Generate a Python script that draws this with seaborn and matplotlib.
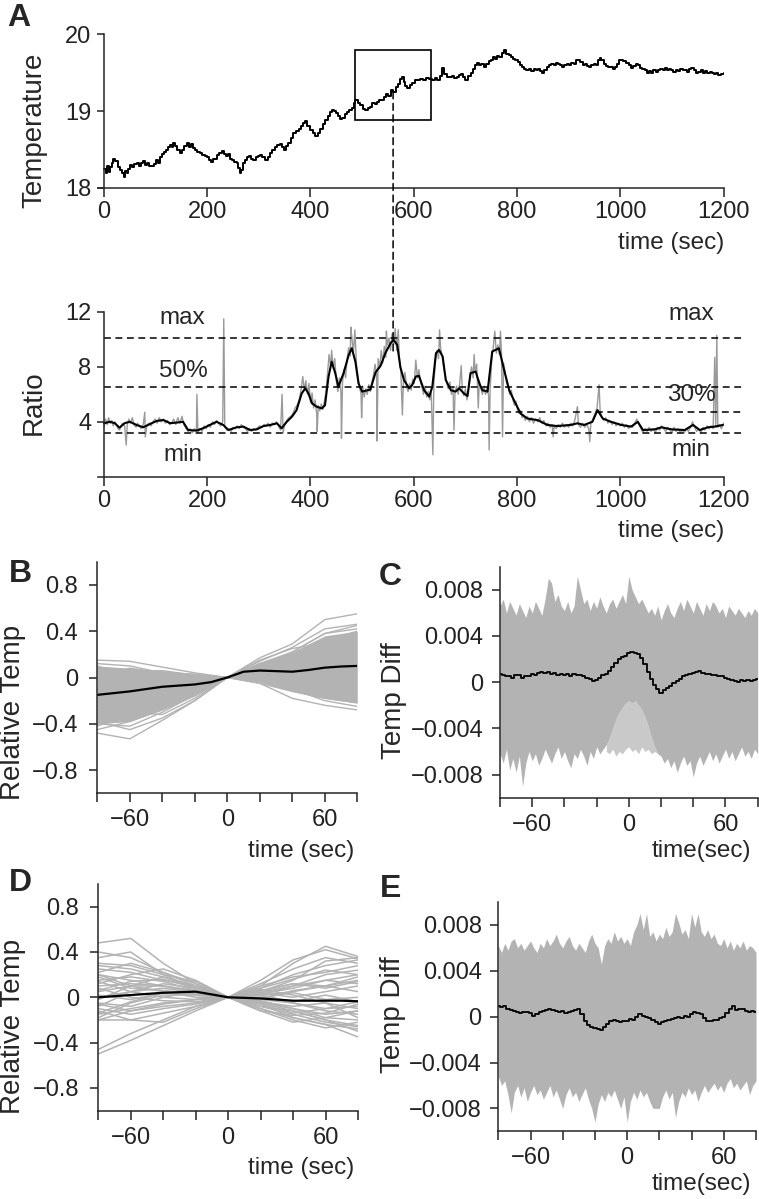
import numpy as np
import pandas as pd
import matplotlib
matplotlib.use("Agg")
import matplotlib.pyplot as plt
import seaborn as sns
from matplotlib.patches import Rectangle, ConnectionPatch

# ------------------------------------------------------------------ data
# Panel A (top): temperature trace (time s, temperature)
temperature_trace = [
    (0, 18.25), (3, 18.2), (6, 18.28), (9, 18.21), (12, 18.27), (15, 18.33), (18, 18.38), (22, 18.35),
    (27, 18.27), (31, 18.24), (34, 18.2), (38, 18.14), (41, 18.22), (44, 18.19), (47, 18.25), (50, 18.3),
    (54, 18.27), (58, 18.31), (63, 18.32), (67, 18.28), (71, 18.32), (75, 18.35), (79, 18.3), (83, 18.33),
    (88, 18.29), (92, 18.28), (96, 18.31), (100, 18.36), (104, 18.33), (108, 18.4), (112, 18.44), (116, 18.47),
    (120, 18.5), (124, 18.53), (128, 18.56), (131, 18.54), (134, 18.58), (138, 18.55), (142, 18.5), (147, 18.45),
    (151, 18.5), (155, 18.55), (160, 18.58), (164, 18.54), (168, 18.57), (172, 18.52), (176, 18.5), (181, 18.47),
    (186, 18.45), (190, 18.43), (195, 18.41), (199, 18.4), (203, 18.36), (208, 18.34), (212, 18.38), (218, 18.43),
    (223, 18.45), (228, 18.48), (232, 18.44), (236, 18.41), (240, 18.44), (244, 18.38), (248, 18.36), (252, 18.34),
    (257, 18.32), (260, 18.26), (263, 18.2), (266, 18.24), (270, 18.32), (273, 18.36), (277, 18.4), (280, 18.42),
    (285, 18.38), (289, 18.37), (294, 18.4), (298, 18.42), (302, 18.43), (307, 18.4), (312, 18.36), (317, 18.4),
    (322, 18.45), (326, 18.5), (331, 18.53), (336, 18.56), (341, 18.57), (345, 18.54), (348, 18.5), (352, 18.55),
    (357, 18.58), (362, 18.65), (367, 18.71), (372, 18.74), (377, 18.77), (381, 18.81), (386, 18.84), (390, 18.87),
    (394, 18.81), (399, 18.75), (404, 18.71), (409, 18.68), (414, 18.72), (419, 18.77), (424, 18.83), (428, 18.88),
    (433, 18.94), (438, 18.99), (442, 19.02), (445, 19.0), (450, 18.97), (454, 18.94), (458, 18.9), (461, 18.91),
    (466, 18.96), (470, 18.99), (475, 19.02), (480, 19.04), (484, 19.1), (487, 19.14), (492, 19.11), (496, 19.08),
    (501, 19.03), (506, 19.01), (511, 19.04), (516, 19.06), (520, 19.1), (524, 19.09), (529, 19.12), (533, 19.15),
    (538, 19.14), (542, 19.19), (547, 19.22), (551, 19.2), (555, 19.27), (560, 19.25), (565, 19.32), (570, 19.35),
    (574, 19.42), (577, 19.45), (581, 19.38), (584, 19.33), (587, 19.3), (592, 19.34), (597, 19.36), (602, 19.4),
    (607, 19.41), (612, 19.42), (618, 19.41), (624, 19.43), (630, 19.42), (636, 19.41), (641, 19.43), (646, 19.41),
    (650, 19.46), (655, 19.56), (659, 19.48), (665, 19.45), (670, 19.44), (674, 19.46), (678, 19.43), (683, 19.45),
    (688, 19.47), (691, 19.48), (695, 19.44), (700, 19.41), (705, 19.46), (710, 19.5), (714, 19.55), (719, 19.6),
    (723, 19.63), (727, 19.6), (731, 19.62), (736, 19.58), (740, 19.62), (745, 19.65), (749, 19.67), (754, 19.7),
    (758, 19.68), (762, 19.72), (766, 19.7), (771, 19.76), (775, 19.8), (779, 19.74), (784, 19.73), (788, 19.7),
    (792, 19.68), (797, 19.66), (801, 19.64), (806, 19.6), (810, 19.57), (814, 19.55), (818, 19.53), (823, 19.55),
    (827, 19.52), (832, 19.55), (836, 19.53), (840, 19.55), (845, 19.52), (849, 19.5), (853, 19.53), (858, 19.57),
    (862, 19.6), (866, 19.61), (871, 19.6), (875, 19.63), (879, 19.62), (884, 19.6), (888, 19.58), (892, 19.6),
    (897, 19.62), (901, 19.6), (905, 19.63), (910, 19.62), (914, 19.66), (918, 19.67), (923, 19.64), (927, 19.6),
    (931, 19.61), (936, 19.59), (940, 19.57), (944, 19.6), (949, 19.62), (953, 19.6), (957, 19.66), (960, 19.69),
    (963, 19.66), (968, 19.62), (972, 19.59), (976, 19.57), (981, 19.58), (985, 19.55), (989, 19.57), (994, 19.62),
    (998, 19.66), (1002, 19.67), (1006, 19.65), (1011, 19.63), (1016, 19.6), (1021, 19.56), (1025, 19.59), (1030, 19.61),
    (1034, 19.6), (1038, 19.56), (1043, 19.55), (1047, 19.53), (1051, 19.5), (1056, 19.52), (1060, 19.5), (1064, 19.53),
    (1069, 19.51), (1073, 19.53), (1077, 19.55), (1082, 19.53), (1086, 19.56), (1090, 19.53), (1095, 19.55), (1099, 19.53),
    (1103, 19.51), (1108, 19.54), (1112, 19.52), (1116, 19.55), (1121, 19.53), (1125, 19.54), (1130, 19.51), (1134, 19.55),
    (1138, 19.56), (1142, 19.53), (1147, 19.5), (1151, 19.51), (1156, 19.53), (1160, 19.5), (1164, 19.52), (1169, 19.49),
    (1173, 19.51), (1177, 19.49), (1182, 19.48), (1186, 19.5), (1190, 19.47), (1195, 19.48), (1200, 19.5),
]

# Panel A (bottom): ratio, smoothed (black) and raw (grey)
ratio_smooth = [
    (0, 3.89), (11, 4.0), (21, 3.9), (30, 3.57), (40, 3.9), (50, 4.0), (63, 3.77), (76, 3.6), (89, 3.84),
    (102, 4.06), (115, 4.13), (128, 3.9), (140, 3.94), (153, 4.0), (163, 3.4), (179, 3.36), (192, 3.53),
    (205, 3.77), (218, 4.0), (231, 3.77), (241, 3.4), (257, 3.6), (270, 3.65), (283, 3.4), (296, 3.45),
    (309, 3.69), (322, 3.77), (335, 3.89), (344, 3.53), (354, 4.0), (364, 4.37), (373, 4.85), (383, 6.07),
    (390, 6.44), (396, 6.07), (403, 5.34), (412, 5.1), (422, 4.98), (428, 5.2), (435, 7.3), (441, 8.38),
    (448, 7.54), (454, 6.56), (464, 7.54), (474, 8.87), (480, 9.36), (487, 8.38), (493, 6.8), (500, 6.2),
    (516, 6.35), (526, 7.6), (536, 8.1), (545, 9.0), (555, 9.72), (561, 9.97), (568, 9.6), (574, 8.0),
    (581, 7.05), (591, 6.44), (597, 6.68), (604, 7.3), (610, 7.35), (620, 6.3), (630, 5.83), (636, 6.56),
    (643, 9.0), (649, 9.24), (656, 8.75), (662, 7.05), (672, 6.3), (681, 6.2), (688, 6.44), (697, 6.07),
    (704, 5.88), (710, 7.54), (720, 7.66), (727, 6.8), (733, 6.3), (743, 6.2), (752, 9.12), (765, 9.36),
    (775, 7.78), (785, 6.3), (794, 5.58), (807, 4.6), (820, 4.24), (840, 4.12), (859, 3.77), (878, 3.69),
    (904, 3.77), (917, 3.89), (930, 3.77), (946, 4.0), (956, 4.85), (966, 4.24), (982, 4.0), (1002, 3.77),
    (1021, 3.65), (1034, 4.0), (1044, 3.4), (1067, 3.45), (1080, 3.6), (1099, 3.45), (1125, 3.4),
    (1141, 3.77), (1154, 3.4), (1170, 3.6), (1183, 3.65), (1199, 3.77),
]
ratio_raw = [
    (0, 3.6), (3, 4.2), (6, 3.8), (9, 4.3), (12, 3.9), (15, 4.1), (18, 3.7), (21, 4.0), (24, 3.8), (27, 3.5),
    (30, 3.4), (33, 3.7), (36, 3.9), (40, 3.7), (43, 2.3), (45, 3.8), (48, 4.2), (51, 3.9), (55, 4.3), (58, 3.8),
    (62, 3.6), (65, 3.9), (69, 3.7), (72, 3.5), (76, 3.8), (79, 4.7), (80, 2.9), (83, 3.7), (87, 3.9), (91, 3.7),
    (95, 4.0), (99, 4.2), (103, 3.9), (107, 4.3), (111, 4.0), (115, 4.2), (119, 3.9), (123, 4.1), (127, 3.8),
    (131, 3.9), (135, 4.2), (139, 3.8), (143, 4.3), (147, 3.9), (151, 4.4), (155, 3.8), (159, 3.5), (163, 3.3),
    (167, 3.5), (171, 3.2), (175, 3.5), (179, 3.3), (180, 6.0), (182, 3.2), (186, 3.5), (190, 3.3), (194, 3.7),
    (198, 3.5), (202, 3.8), (206, 3.6), (210, 4.0), (214, 3.8), (218, 4.1), (222, 3.9), (226, 3.7), (230, 4.0),
    (232, 11.5), (234, 3.6), (238, 3.4), (242, 3.5), (246, 3.3), (250, 3.6), (254, 3.5), (258, 3.7), (262, 3.5),
    (266, 3.8), (270, 3.6), (274, 3.5), (278, 3.3), (282, 3.5), (286, 3.3), (290, 3.5), (294, 3.4), (298, 3.6),
    (302, 3.7), (306, 3.6), (310, 3.8), (314, 3.7), (318, 3.9), (322, 3.6), (326, 3.9), (330, 3.8), (334, 4.0),
    (338, 3.7), (342, 3.4), (345, 6.0), (347, 3.2), (350, 3.8), (354, 4.1), (358, 4.3), (362, 4.4), (366, 4.6),
    (370, 5.0), (374, 5.2), (378, 5.6), (382, 6.4), (385, 7.3), (388, 6.3), (391, 7.0), (394, 6.0), (397, 6.8),
    (400, 5.4), (403, 6.1), (406, 5.0), (409, 5.6), (412, 4.6), (413, 3.3), (415, 5.2), (418, 4.8), (421, 5.3),
    (424, 4.9), (427, 5.5), (430, 6.2), (433, 7.6), (436, 8.9), (439, 8.0), (441, 9.2), (444, 7.9), (447, 8.6),
    (450, 7.0), (453, 6.2), (456, 7.2), (459, 6.1), (460, 2.8), (462, 6.9), (465, 7.8), (468, 7.2), (471, 8.6),
    (474, 9.4), (477, 8.8), (478, 10.9), (480, 10.2), (483, 9.0), (486, 10.7), (489, 8.2), (492, 7.3), (495, 6.5),
    (498, 6.0), (499, 4.3), (501, 6.6), (504, 5.8), (507, 6.4), (510, 6.0), (513, 6.7), (516, 6.2), (519, 6.9),
    (522, 7.4), (525, 8.2), (528, 7.4), (529, 2.6), (531, 8.6), (534, 7.9), (537, 9.2), (540, 8.3), (543, 9.5),
    (546, 8.7), (547, 10.6), (549, 9.6), (552, 10.1), (555, 9.2), (558, 10.4), (561, 9.6), (564, 10.8),
    (567, 9.2), (570, 10.7), (572, 8.8), (575, 7.6), (578, 4.5), (580, 7.0), (583, 7.6), (586, 6.6), (589, 6.2),
    (592, 6.8), (595, 6.3), (598, 7.1), (601, 6.8), (604, 8.5), (607, 7.2), (610, 7.8), (613, 6.9), (616, 6.5),
    (619, 6.0), (622, 6.6), (625, 5.8), (628, 6.2), (631, 5.6), (634, 6.1), (637, 1.6), (639, 6.8), (642, 8.4),
    (645, 9.2), (648, 8.6), (650, 10.7), (652, 9.4), (655, 8.8), (658, 8.0), (661, 7.4), (664, 6.8), (667, 6.4),
    (670, 6.9), (673, 6.0), (676, 6.5), (678, 3.4), (680, 6.2), (683, 6.6), (686, 6.0), (689, 6.8), (692, 8.1),
    (694, 6.3), (697, 5.9), (700, 6.4), (703, 5.6), (706, 6.2), (709, 7.4), (712, 8.0), (715, 7.2), (717, 8.9),
    (719, 7.6), (722, 8.2), (725, 5.0), (727, 7.0), (730, 6.5), (733, 6.0), (736, 6.6), (739, 6.0), (742, 6.5),
    (745, 5.9), (746, 1.95), (748, 6.4), (751, 8.5), (754, 9.4), (757, 10.6), (760, 9.0), (763, 9.6), (766, 8.9),
    (768, 10.6), (770, 9.0), (772, 2.9), (774, 8.3), (777, 7.6), (780, 6.8), (783, 6.5), (786, 6.0), (789, 6.3),
    (792, 5.6), (795, 5.2), (798, 5.5), (801, 4.9), (804, 4.6), (807, 4.8), (810, 4.3), (813, 4.5), (816, 4.1),
    (820, 4.4), (824, 4.0), (828, 4.3), (832, 3.9), (836, 4.2), (840, 4.0), (844, 4.3), (848, 3.9), (852, 4.1),
    (856, 3.7), (860, 3.9), (864, 3.6), (868, 3.8), (870, 2.9), (872, 3.7), (876, 3.5), (880, 3.8), (884, 3.6),
    (888, 3.9), (892, 3.6), (896, 3.8), (900, 3.6), (904, 3.9), (908, 3.7), (912, 4.1), (917, 5.1), (919, 3.8),
    (923, 3.6), (927, 3.9), (931, 3.6), (935, 3.8), (939, 3.5), (941, 2.55), (943, 3.9), (947, 4.2), (951, 4.6),
    (955, 5.0), (959, 6.7), (961, 4.8), (964, 4.4), (968, 4.1), (972, 4.3), (976, 3.9), (980, 4.1), (984, 3.8),
    (988, 4.0), (992, 3.7), (996, 3.9), (1000, 3.7), (1004, 3.9), (1008, 3.6), (1012, 3.8), (1016, 3.5),
    (1020, 3.7), (1024, 3.6), (1028, 3.9), (1032, 4.2), (1036, 3.8), (1040, 3.5), (1044, 3.2), (1048, 3.5),
    (1052, 3.3), (1056, 3.6), (1060, 3.3), (1064, 3.5), (1068, 3.2), (1072, 3.6), (1076, 3.4), (1080, 3.7),
    (1084, 3.5), (1088, 3.3), (1092, 3.6), (1096, 3.4), (1100, 3.2), (1104, 3.6), (1108, 3.3), (1112, 3.5),
    (1116, 3.2), (1120, 3.4), (1124, 3.2), (1128, 3.5), (1132, 3.3), (1136, 3.6), (1140, 4.0), (1144, 3.6),
    (1148, 3.3), (1152, 3.5), (1156, 3.2), (1160, 3.6), (1164, 3.4), (1168, 3.7), (1172, 3.5), (1176, 3.7),
    (1180, 3.5), (1183, 8.7), (1185, 3.6), (1187, 10.3), (1189, 3.6), (1192, 3.8), (1196, 3.5), (1200, 3.9),
]
level_max = 10.1
level_50 = 6.5
level_30 = 4.75
level_min = 3.2
level_30_start = 619
level_end = 1235
marker_time = 560
marker_temp = 19.25
marker_ratio = 9.0
box_times = (487, 633)
box_temps = (18.89, 19.80)

# Panels B-E: event-triggered windows
window_coarse = [-80, -60, -40, -20, 0, 20, 40, 60, 80]
window_mid = [-80, -70, -60, -50, -40, -30, -20, -10, 0, 10, 20, 30, 40, 50, 60, 70, 80]
window_fine = list(range(-80, 81, 2))

B_lines = [
    [0.15, 0.14, 0.09, 0.04, 0, 0.17, 0.29, 0.50, 0.55],
    [-0.48, -0.53, -0.37, -0.20, 0, 0.12, 0.22, 0.38, 0.45],
    [0.08, 0.05, 0.02, 0.00, 0, -0.05, -0.18, -0.24, -0.28],
    [-0.30, -0.35, -0.25, -0.12, 0, 0.08, 0.15, 0.28, 0.35],
    [-0.10, -0.05, -0.05, -0.03, 0, 0.03, 0.05, 0.10, 0.15],
    [-0.22, -0.18, -0.12, -0.08, 0, 0.10, 0.20, 0.32, 0.40],
    [-0.40, -0.42, -0.30, -0.15, 0, -0.02, -0.10, -0.20, -0.25],
    [0.00, 0.05, 0.06, 0.02, 0, 0.05, 0.00, -0.10, -0.15],
    [-0.35, -0.30, -0.20, -0.10, 0, 0.15, 0.25, 0.30, 0.32],
    [-0.05, -0.10, -0.08, -0.05, 0, 0.06, 0.12, 0.20, 0.18],
    [-0.25, -0.30, -0.32, -0.18, 0, 0.02, -0.05, -0.12, -0.08],
    [0.12, 0.10, 0.04, 0.01, 0, 0.08, 0.18, 0.25, 0.30],
    [-0.45, -0.38, -0.28, -0.16, 0, 0.05, 0.10, 0.05, 0.00],
    [-0.15, -0.20, -0.15, -0.10, 0, -0.05, -0.12, -0.18, -0.22],
    [0.05, -0.02, -0.05, -0.04, 0, 0.10, 0.22, 0.38, 0.42],
    [-0.32, -0.25, -0.18, -0.12, 0, 0.12, 0.08, 0.15, 0.22],
    [-0.18, -0.12, -0.10, -0.06, 0, 0.00, 0.05, 0.02, 0.08],
    [-0.05, -0.15, -0.20, -0.10, 0, 0.14, 0.26, 0.42, 0.46],
    [-0.38, -0.45, -0.35, -0.20, 0, 0.04, 0.00, -0.05, -0.12],
    [0.10, 0.00, -0.02, 0.00, 0, -0.03, -0.08, 0.00, 0.05],
    [-0.28, -0.20, -0.22, -0.14, 0, 0.08, 0.12, 0.22, 0.25],
    [-0.12, -0.25, -0.20, -0.08, 0, 0.06, 0.18, 0.12, 0.10],
    [0.02, 0.08, 0.04, 0.03, 0, 0.10, 0.14, 0.08, -0.02],
    [-0.42, -0.32, -0.26, -0.14, 0, 0.02, -0.08, -0.16, -0.20],
]
B_core_upper = [0.10, 0.08, 0.06, 0.03, 0.0, 0.13, 0.22, 0.36, 0.40]
B_core_lower = [-0.40, -0.38, -0.28, -0.15, 0.0, -0.04, -0.12, -0.18, -0.22]
B_mean = [-0.15, -0.135, -0.12, -0.10, -0.08, -0.07, -0.06, -0.04, 0.0,
          0.05, 0.06, 0.055, 0.05, 0.065, 0.085, 0.095, 0.10]

C_upper = [
    0.0066, 0.0072, 0.0060, 0.0070, 0.0064, 0.0058, 0.0068, 0.0062, 0.0056, 0.0066,
    0.0060, 0.0070, 0.0064, 0.0058, 0.0072, 0.0090, 0.0086, 0.0070, 0.0076, 0.0066,
    0.0062, 0.0070, 0.0060, 0.0066, 0.0092, 0.0080, 0.0068, 0.0072, 0.0062, 0.0070,
    0.0064, 0.0074, 0.0066, 0.0060, 0.0068, 0.0072, 0.0064, 0.0070, 0.0076, 0.0068,
    0.0092, 0.0080, 0.0074, 0.0068, 0.0072, 0.0066, 0.0060, 0.0064, 0.0058, 0.0066,
    0.0054, 0.0062, 0.0068, 0.0060, 0.0056, 0.0064, 0.0070, 0.0062, 0.0072, 0.0066,
    0.0060, 0.0070, 0.0064, 0.0058, 0.0068, 0.0062, 0.0070, 0.0066, 0.0060, 0.0064,
    0.0056, 0.0066, 0.0062, 0.0058, 0.0064, 0.0060, 0.0056, 0.0062, 0.0058, 0.0064,
    0.0060,
]
C_lower = [
    -0.0062, -0.0070, -0.0058, -0.0076, -0.0066, -0.0078, -0.0064, -0.0090, -0.0070, -0.0060,
    -0.0068, -0.0062, -0.0072, -0.0066, -0.0058, -0.0064, -0.0070, -0.0062, -0.0056, -0.0066,
    -0.0060, -0.0068, -0.0074, -0.0062, -0.0066, -0.0058, -0.0064, -0.0072, -0.0060, -0.0066,
    -0.0056, -0.0062, -0.0058, -0.0054, -0.0048, -0.0040, -0.0032, -0.0026, -0.0022, -0.0018,
    -0.0016, -0.0018, -0.0016, -0.0020, -0.0024, -0.0030, -0.0038, -0.0048, -0.0056, -0.0062,
    -0.0064, -0.0070, -0.0066, -0.0074, -0.0068, -0.0078, -0.0070, -0.0064, -0.0072, -0.0068,
    -0.0082, -0.0070, -0.0064, -0.0072, -0.0066, -0.0060, -0.0068, -0.0062, -0.0070, -0.0064,
    -0.0058, -0.0066, -0.0060, -0.0068, -0.0062, -0.0056, -0.0064, -0.0060, -0.0066, -0.0058,
    -0.0062,
]
C_light_floor = [-0.0060, -0.0062, -0.0058, -0.0064, -0.0060, -0.0062, -0.0058, -0.0056, -0.0060,
                 -0.0058, -0.0062, -0.0056, -0.0060, -0.0058, -0.0062, -0.0060, -0.0062]  # t = -14..18
C_mean = [
    0.0007, 0.0006, 0.0005, 0.0005, 0.0004, 0.0006, 0.0006, 0.0004, 0.0005, 0.0005,
    0.0007, 0.0006, 0.0008, 0.0009, 0.0008, 0.0009, 0.0007, 0.0008, 0.0006, 0.0007,
    0.0006, 0.0007, 0.0005, 0.0007, 0.0006, 0.0006, 0.0005, 0.0004, 0.0003, 0.0001,
    0.0002, 0.0004, 0.0006, 0.0007, 0.0010, 0.0013, 0.0017, 0.0020, 0.0022, 0.0023,
    0.0025, 0.0026, 0.0025, 0.0024, 0.0021, 0.0016, 0.0009, 0.0003, -0.0002, -0.0006,
    -0.0009, -0.0007, -0.0005, -0.0003, -0.0001, 0.0001, 0.0003, 0.0005, 0.0006, 0.0007,
    0.0008, 0.0009, 0.0010, 0.0008, 0.0007, 0.0007, 0.0006, 0.0006, 0.0005, 0.0005,
    0.0004, 0.0003, 0.0002, 0.0001, 0.0000, 0.0002, 0.0001, 0.0002, 0.0001, 0.0002,
    0.0003,
]

D_lines = [
    [0.48, 0.52, 0.30, 0.12, 0, 0.10, 0.30, 0.45, 0.36],
    [0.40, 0.35, 0.22, 0.10, 0, 0.05, 0.15, 0.32, 0.35],
    [-0.50, -0.38, -0.25, -0.12, 0, -0.05, -0.12, -0.20, -0.30],
    [-0.46, -0.32, -0.20, -0.08, 0, 0.08, 0.20, 0.28, 0.33],
    [0.28, 0.25, 0.18, 0.08, 0, -0.08, -0.15, -0.22, -0.26],
    [0.22, 0.30, 0.22, 0.12, 0, 0.04, 0.10, 0.15, 0.20],
    [0.15, 0.18, 0.14, 0.06, 0, -0.03, -0.10, -0.15, -0.12],
    [0.10, 0.12, 0.10, 0.05, 0, 0.02, 0.05, 0.10, 0.15],
    [-0.20, -0.20, -0.14, -0.08, 0, -0.06, -0.18, -0.24, -0.35],
    [-0.15, -0.10, -0.05, -0.02, 0, 0.06, 0.12, 0.10, 0.05],
    [0.05, 0.10, 0.05, 0.00, 0, -0.05, -0.10, -0.18, -0.20],
    [0.00, 0.05, 0.08, 0.04, 0, 0.15, 0.33, 0.42, 0.34],
    [-0.05, -0.08, 0.00, 0.05, 0, -0.02, -0.05, -0.10, -0.08],
    [0.20, 0.15, 0.10, 0.04, 0, -0.10, -0.20, -0.27, -0.22],
    [-0.10, -0.15, -0.10, -0.06, 0, 0.03, 0.08, 0.15, 0.12],
    [0.12, 0.20, 0.25, 0.15, 0, 0.00, -0.05, -0.12, -0.15],
    [-0.20, -0.12, -0.08, -0.05, 0, -0.12, -0.22, -0.18, -0.12],
    [0.25, 0.22, 0.15, 0.10, 0, 0.10, 0.18, 0.22, 0.28],
    [0.08, 0.00, -0.03, -0.04, 0, 0.04, 0.00, 0.05, 0.10],
    [-0.08, 0.05, 0.12, 0.08, 0, -0.04, -0.08, -0.05, -0.10],
    [0.18, 0.08, 0.06, 0.03, 0, 0.12, 0.25, 0.35, 0.30],
    [-0.18, -0.05, 0.02, 0.02, 0, -0.08, -0.12, -0.20, -0.25],
    [0.02, -0.02, 0.04, 0.02, 0, 0.02, 0.10, 0.20, 0.24],
    [0.35, 0.40, 0.20, 0.08, 0, -0.06, -0.14, -0.10, -0.04],
    [-0.12, -0.20, -0.22, -0.10, 0, 0.07, 0.02, -0.05, -0.18],
    [0.14, 0.05, 0.00, -0.02, 0, 0.00, 0.04, -0.02, 0.00],
    [-0.02, 0.10, 0.18, 0.10, 0, -0.10, -0.18, -0.24, -0.28],
    [0.30, 0.28, 0.20, 0.14, 0, 0.05, 0.12, 0.08, 0.14],
    [-0.06, -0.12, -0.06, -0.02, 0, -0.02, 0.06, 0.10, 0.18],
    [0.06, 0.14, 0.16, 0.08, 0, 0.08, 0.16, 0.24, 0.20],
    [-0.14, -0.04, 0.04, 0.06, 0, -0.12, -0.16, -0.14, -0.06],
    [0.20, 0.10, 0.10, 0.06, 0, 0.02, -0.04, 0.02, -0.04],
]
D_mean = [0.0, 0.01, 0.02, 0.03, 0.04, 0.045, 0.05, 0.025, 0.0,
          -0.005, -0.01, -0.02, -0.03, -0.03, -0.03, -0.03, -0.035]

E_upper = [
    0.0062, 0.0056, 0.0064, 0.0058, 0.0066, 0.0068, 0.0060, 0.0064, 0.0058, 0.0062,
    0.0066, 0.0060, 0.0056, 0.0064, 0.0060, 0.0068, 0.0062, 0.0066, 0.0072, 0.0064,
    0.0060, 0.0066, 0.0070, 0.0062, 0.0058, 0.0064, 0.0060, 0.0056, 0.0066, 0.0072,
    0.0064, 0.0060, 0.0046, 0.0062, 0.0068, 0.0064, 0.0074, 0.0066, 0.0070, 0.0064,
    0.0068, 0.0062, 0.0074, 0.0080, 0.0090, 0.0076, 0.0090, 0.0070, 0.0074, 0.0066,
    0.0072, 0.0068, 0.0078, 0.0070, 0.0074, 0.0090, 0.0082, 0.0072, 0.0076, 0.0068,
    0.0090, 0.0078, 0.0090, 0.0074, 0.0070, 0.0076, 0.0068, 0.0072, 0.0064, 0.0062,
    0.0068, 0.0060, 0.0066, 0.0058, 0.0064, 0.0060, 0.0066, 0.0058, 0.0062, 0.0060,
    0.0056,
]
E_lower = [
    -0.0052, -0.0060, -0.0056, -0.0068, -0.0084, -0.0066, -0.0060, -0.0070, -0.0062, -0.0074,
    -0.0066, -0.0060, -0.0068, -0.0064, -0.0072, -0.0066, -0.0060, -0.0070, -0.0064, -0.0072,
    -0.0080, -0.0068, -0.0062, -0.0070, -0.0066, -0.0074, -0.0068, -0.0062, -0.0072, -0.0080,
    -0.0092, -0.0076, -0.0068, -0.0074, -0.0066, -0.0070, -0.0064, -0.0072, -0.0080, -0.0070,
    -0.0092, -0.0074, -0.0066, -0.0072, -0.0064, -0.0070, -0.0066, -0.0074, -0.0080, -0.0080,
    -0.0080, -0.0070, -0.0064, -0.0072, -0.0066, -0.0088, -0.0074, -0.0066, -0.0070, -0.0062,
    -0.0068, -0.0064, -0.0074, -0.0066, -0.0060, -0.0066, -0.0062, -0.0058, -0.0064, -0.0060,
    -0.0066, -0.0058, -0.0054, -0.0062, -0.0058, -0.0064, -0.0060, -0.0056, -0.0068, -0.0060,
    -0.0056,
]
E_mean = [
    0.0009, 0.0008, 0.0009, 0.0007, 0.0006, 0.0005, 0.0004, 0.0003, 0.0004, 0.0004,
    0.0003, 0.0001, 0.0002, 0.0004, 0.0005, 0.0006, 0.0007, 0.0006, 0.0005, 0.0004,
    0.0005, 0.0003, 0.0004, 0.0005, 0.0006, 0.0007, 0.0002, -0.0004, -0.0007, -0.0009,
    -0.0010, -0.0011, -0.0012, -0.0009, -0.0006, -0.0004, -0.0003, -0.0004, -0.0005, -0.0004,
    -0.0004, -0.0002, -0.0003, 0.0000, 0.0002, 0.0001, 0.0000, -0.0001, -0.0003, -0.0005,
    -0.0006, -0.0005, -0.0004, -0.0003, -0.0002, -0.0001, 0.0000, -0.0001, 0.0001, 0.0000,
    0.0002, 0.0004, 0.0003, 0.0002, -0.0001, -0.0004, -0.0004, -0.0003, -0.0003, -0.0001,
    0.0000, 0.0003, 0.0007, 0.0009, 0.0006, 0.0007, 0.0007, 0.0005, 0.0004, 0.0005,
    0.0004,
]

temp_ticks = [18, 19, 20]
ratio_ticks = [4, 8, 12]
time_ticks = [0, 200, 400, 600, 800, 1000, 1200]
window_ticks = [-80, -60, -40, -20, 0, 20, 40, 60, 80]
window_ticklabels = ["", "\u221260", "", "", "0", "", "", "60", ""]
rel_ticks = [-0.8, -0.4, 0, 0.4, 0.8]
rel_ticklabels = ["\u22120.8", "\u22120.4", "0", "0.4", "0.8"]
diff_ticks = [-0.008, -0.004, 0, 0.004, 0.008]
diff_ticklabels = ["\u22120.008", "\u22120.004", "0", "0.004", "0.008"]

# ------------------------------------------------------------------ style
sns.set_theme(style="ticks")
plt.rcParams["font.family"] = ["Liberation Sans", "DejaVu Sans"]
plt.rcParams["axes.linewidth"] = 1.1
plt.rcParams["xtick.major.width"] = 1.1
plt.rcParams["ytick.major.width"] = 1.1
plt.rcParams["xtick.color"] = "#222222"
plt.rcParams["ytick.color"] = "#222222"

W, H = 759, 1199
fig = plt.figure(figsize=(W / 100, H / 100), dpi=100)


def px_axes(left, top, right, bottom):
    return fig.add_axes([left / W, 1 - bottom / H, (right - left) / W, (bottom - top) / H])


def fx(x):
    return x / W


def fy(y):
    return 1 - y / H


TICK_FS = 17
LABEL_FS = 20
GREY = "#b3b3b3"

axT = px_axes(97.8, 34.3, 723.5, 188.0)
axR = px_axes(97.8, 312.0, 723.5, 476.7)
axB = px_axes(97.3, 561.7, 357.3, 793.3)
axC = px_axes(500.0, 566.7, 757.7, 797.7)
axD = px_axes(98.3, 884.0, 358.0, 1110.6)
axE = px_axes(498.3, 902.0, 756.0, 1131.3)

# ------------------------------------------------------------------ panel A top
tt, tv = zip(*temperature_trace)
sns.lineplot(x=list(tt), y=list(tv), ax=axT, color="black", lw=1.4,
             drawstyle="steps-post", sort=False, estimator=None)
axT.add_patch(Rectangle((box_times[0], box_temps[0]), box_times[1] - box_times[0],
                        box_temps[1] - box_temps[0], fill=False, ec="black", lw=1.2))
axT.set_xlim(-12, 1200)
axT.set_ylim(18, 20)
axT.set_yticks(temp_ticks)
axT.set_xticks(time_ticks)

# ------------------------------------------------------------------ panel A bottom
rt, rv = zip(*ratio_raw)
sns.lineplot(x=list(rt), y=list(rv), ax=axR, color="#9a9a9a", lw=1.0, sort=False, estimator=None)
st, sv = zip(*ratio_smooth)
sns.lineplot(x=list(st), y=list(sv), ax=axR, color="black", lw=1.5, sort=False, estimator=None)
dash = (0, (4.5, 3))
for lvl in (level_max, level_50, level_min):
    axR.plot([0, level_end], [lvl, lvl], color="black", lw=1.1, ls=dash, clip_on=False)
axR.plot([level_30_start, level_end], [level_30, level_30], color="black", lw=1.1, ls=dash, clip_on=False)
axR.set_xlim(-12, 1200)
axR.set_ylim(0, 12)
axR.set_yticks(ratio_ticks)
axR.set_xticks(time_ticks)
for txt, x, y in [("max", 151, 11.53), ("50%", 153, 7.7), ("min", 152, 1.58),
                  ("max", 1137, 11.86), ("30%", 1137, 5.95), ("min", 1137, 1.94)]:
    axR.text(x, y, txt, ha="center", va="center", fontsize=17.5, clip_on=False)

for ax in (axT, axR):
    sns.despine(ax=ax)
    ax.spines["left"].set_position(("data", 0))
    ax.tick_params(axis="x", length=6.5, pad=3, labelsize=TICK_FS)
    ax.tick_params(axis="y", length=5, pad=4, labelsize=TICK_FS)
    ax.set_xlabel("")
    ax.set_ylabel("")

con = ConnectionPatch(xyA=(marker_time, marker_temp), coordsA="data", axesA=axT,
                      xyB=(marker_time, marker_ratio), coordsB="data", axesB=axR,
                      color="black", lw=1.1, linestyle=dash)
fig.add_artist(con)


# ------------------------------------------------------------------ panels B & D
def lines_frame(lines):
    rows = []
    for i, ln in enumerate(lines):
        for t, v in zip(window_coarse, ln):
            rows.append({"t": t, "v": v, "trace": i})
    return pd.DataFrame(rows)


axB.fill_between(window_coarse, B_core_lower, B_core_upper, color=GREY, lw=0)
sns.lineplot(data=lines_frame(B_lines), x="t", y="v", units="trace", estimator=None,
             color=GREY, lw=1.0, ax=axB, legend=False)
sns.lineplot(x=window_mid, y=B_mean, ax=axB, color="black", lw=1.6, estimator=None)

sns.lineplot(data=lines_frame(D_lines), x="t", y="v", units="trace", estimator=None,
             color=GREY, lw=1.1, ax=axD, legend=False)
sns.lineplot(x=window_mid, y=D_mean, ax=axD, color="black", lw=1.6, estimator=None)

# ------------------------------------------------------------------ panels C & E
axC.fill_between(window_fine[33:50], C_light_floor, C_lower[33:50], color="#c9c9c9", lw=0)
axC.fill_between(window_fine, C_lower, C_upper, color=GREY, lw=0)
sns.lineplot(x=window_fine, y=C_mean, ax=axC, color="black", lw=1.3, drawstyle="steps-mid", estimator=None)

axE.fill_between(window_fine, E_lower, E_upper, color=GREY, lw=0)
sns.lineplot(x=window_fine, y=E_mean, ax=axE, color="black", lw=1.3, drawstyle="steps-mid", estimator=None)

for ax, yl, yt, ytl, ypad in [(axB, (-1, 1), rel_ticks, rel_ticklabels, 8),
                              (axD, (-1, 1), rel_ticks, rel_ticklabels, 8),
                              (axC, (-0.01, 0.01), diff_ticks, diff_ticklabels, 6),
                              (axE, (-0.01, 0.01), diff_ticks, diff_ticklabels, 6)]:
    ax.set_xlim(-80, 80)
    ax.set_ylim(*yl)
    ax.set_xticks(window_ticks)
    ax.set_xticklabels(window_ticklabels)
    ax.set_yticks(yt)
    ax.set_yticklabels(ytl)
    sns.despine(ax=ax)
    ax.tick_params(axis="x", length=6.5, pad=5, labelsize=TICK_FS)
    ax.tick_params(axis="y", length=6, pad=ypad, labelsize=TICK_FS)
    ax.set_xlabel("")
    ax.set_ylabel("")

# ------------------------------------------------------------------ labels
fig.text(fx(34), fy(130), "Temperature", rotation=90, ha="center", va="center", fontsize=LABEL_FS)
fig.text(fx(34), fy(403), "Ratio", rotation=90, ha="center", va="center", fontsize=LABEL_FS)
fig.text(fx(13), fy(712), "Relative Temp", rotation=90, ha="center", va="center", fontsize=LABEL_FS)
fig.text(fx(13), fy(1026), "Relative Temp", rotation=90, ha="center", va="center", fontsize=LABEL_FS)
fig.text(fx(394), fy(701), "Temp Diff", rotation=90, ha="center", va="center", fontsize=LABEL_FS)
fig.text(fx(393), fy(1015), "Temp Diff", rotation=90, ha="center", va="center", fontsize=LABEL_FS)

fig.text(fx(724), fy(243), "time (sec)", ha="right", va="center", fontsize=17.5)
fig.text(fx(724), fy(531), "time (sec)", ha="right", va="center", fontsize=17.5)
fig.text(fx(354), fy(851), "time (sec)", ha="right", va="center", fontsize=17.5)
fig.text(fx(751), fy(851), "time(sec)", ha="right", va="center", fontsize=17.5)
fig.text(fx(354), fy(1168), "time (sec)", ha="right", va="center", fontsize=17.5)
fig.text(fx(751), fy(1184), "time(sec)", ha="right", va="center", fontsize=17.5)

for letter, x, y in [("A", 19, 18), ("B", 20, 574), ("C", 390, 577), ("D", 20, 883), ("E", 391, 889)]:
    fig.text(fx(x), fy(y), letter, ha="center", va="center", fontsize=23, fontweight="bold")

fig.savefig("out.png", dpi=100)
